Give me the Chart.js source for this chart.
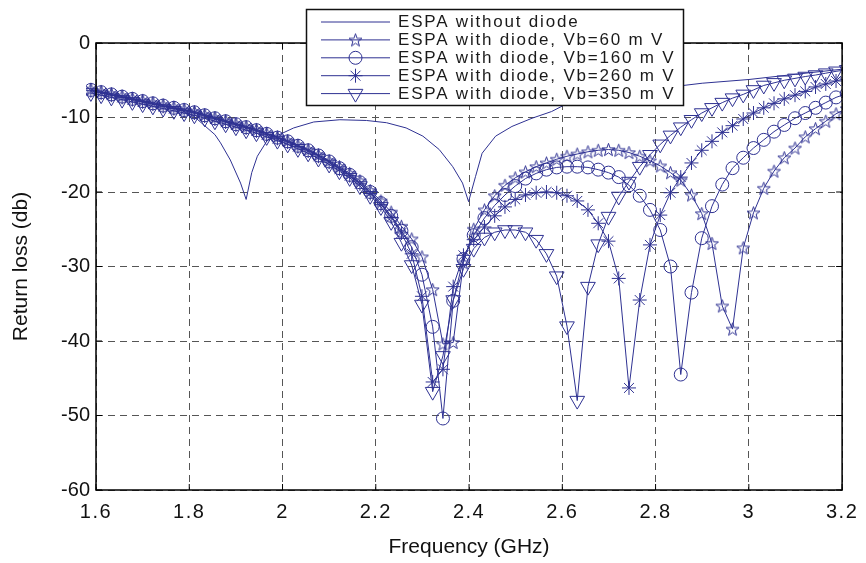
<!DOCTYPE html>
<html>
<head>
<meta charset="utf-8">
<title>Return loss</title>
<script src="https://cdn.jsdelivr.net/npm/chart.js@4.4.1/dist/chart.umd.min.js"></script>
<style>
  html, body { margin: 0; padding: 0; background: #fff; }
  #wrap { width: 866px; height: 563px; }
</style>
</head>
<body>
<div id="wrap"><canvas id="chart" width="866" height="563"></canvas></div>
<script>
// sweep used by the four diode curves (GHz)
const freq = [1.589, 1.611, 1.633, 1.656, 1.678, 1.700, 1.722, 1.744, 1.767, 1.789,
  1.811, 1.833, 1.855, 1.878, 1.900, 1.922, 1.944, 1.966, 1.989, 2.011,
  2.033, 2.055, 2.077, 2.100, 2.122, 2.144, 2.166, 2.188, 2.211, 2.233,
  2.255, 2.277, 2.299, 2.322, 2.344, 2.366, 2.388, 2.410, 2.433, 2.455,
  2.477, 2.499, 2.521, 2.544, 2.566, 2.588, 2.610, 2.632, 2.655, 2.677,
  2.699, 2.721, 2.743, 2.766, 2.788, 2.810, 2.832, 2.854, 2.877, 2.899,
  2.921, 2.943, 2.965, 2.988, 3.010, 3.032, 3.054, 3.076, 3.099, 3.121,
  3.143, 3.165, 3.187, 3.210];

// ESPA without diode
const freqNoDiode = [1.589, 1.633, 1.678, 1.722, 1.767, 1.789, 1.811, 1.833, 1.855, 1.867,
  1.888, 1.910, 1.922, 1.934, 1.946, 1.968, 2.000, 2.024, 2.067, 2.123,
  2.180, 2.223, 2.265, 2.301, 2.336, 2.365, 2.386, 2.399, 2.414, 2.428,
  2.457, 2.492, 2.535, 2.577, 2.605, 2.650, 2.700, 2.750, 2.800, 2.846,
  2.900, 3.000, 3.100, 3.210];
const noDiode = [-6.4, -7.0, -7.6, -8.2, -8.8, -9.2, -9.9, -11.1, -12.3, -13.4,
  -15.7, -18.8, -21.0, -17.4, -15.2, -13.0, -12.1, -11.4, -10.6, -10.3,
  -10.4, -10.7, -11.4, -12.5, -14.3, -16.6, -18.8, -21.3, -17.9, -14.8,
  -12.5, -11.2, -10.1, -9.2, -8.3, -7.6, -6.9, -6.4, -6.1, -5.8,
  -5.4, -4.9, -4.2, -3.45];

const vb60 = [-6.2, -6.5, -6.8, -7.1, -7.4, -7.7, -8.0, -8.3, -8.6, -8.9,
  -9.2, -9.6, -10.0, -10.4, -10.8, -11.2, -11.6, -12.1, -12.6, -13.1,
  -13.7, -14.3, -15.0, -15.8, -16.6, -17.5, -18.5, -19.8, -21.2, -22.7,
  -24.6, -26.3, -28.7, -33.1, -40.4, -40.2, -29.5, -25.0, -22.4, -20.5,
  -19.1, -18.1, -17.3, -16.6, -16.1, -15.6, -15.2, -14.9, -14.6, -14.4,
  -14.3, -14.4, -14.7, -15.2, -15.8, -16.5, -17.4, -18.4, -20.4, -22.9,
  -26.9, -35.3, -38.4, -27.5, -22.8, -19.5, -17.2, -15.4, -14.1, -12.6,
  -11.5, -10.5, -9.5, -8.8];

const vb160 = [-6.3, -6.6, -6.9, -7.2, -7.5, -7.8, -8.1, -8.4, -8.7, -9.0,
  -9.3, -9.7, -10.1, -10.5, -10.9, -11.3, -11.7, -12.2, -12.7, -13.2,
  -13.8, -14.4, -15.1, -15.9, -16.8, -17.7, -18.7, -20.0, -21.5, -23.2,
  -25.2, -27.4, -31.1, -38.1, -50.4, -34.6, -29.0, -25.8, -23.5, -21.8,
  -20.4, -19.2, -18.2, -17.5, -17.0, -16.7, -16.6, -16.6, -16.7, -17.0,
  -17.4, -18.0, -19.1, -20.5, -22.4, -25.1, -30.0, -44.5, -33.5, -26.2,
  -21.9, -19.0, -16.8, -15.4, -14.1, -13.0, -11.9, -11.0, -10.1, -9.4,
  -8.7, -8.0, -7.3, -6.8];

const vb260 = [-6.4, -6.7, -7.0, -7.3, -7.6, -7.9, -8.2, -8.5, -8.8, -9.1,
  -9.4, -9.8, -10.2, -10.6, -11.0, -11.4, -11.8, -12.3, -12.8, -13.3,
  -13.9, -14.5, -15.2, -16.0, -16.9, -17.8, -18.9, -20.2, -21.7, -23.4,
  -25.5, -28.3, -34.0, -45.5, -43.8, -32.7, -28.5, -26.4, -24.7, -23.2,
  -22.0, -21.0, -20.4, -20.1, -20.0, -20.1, -20.5, -21.2, -22.4, -24.2,
  -26.6, -31.6, -46.3, -34.5, -27.1, -23.1, -20.1, -18.0, -16.1, -14.4,
  -13.2, -12.0, -11.1, -10.2, -9.4, -8.7, -8.1, -7.5, -7.0, -6.5,
  -5.9, -5.5, -5.1, -4.7];

const vb350 = [-6.7, -7.0, -7.3, -7.6, -7.9, -8.2, -8.5, -8.8, -9.1, -9.4,
  -9.7, -10.1, -10.5, -10.9, -11.3, -11.7, -12.1, -12.6, -13.1, -13.6,
  -14.2, -14.8, -15.5, -16.3, -17.2, -18.1, -19.2, -20.5, -22.0, -24.0,
  -26.8, -29.8, -35.1, -46.8, -42.0, -34.5, -30.3, -27.6, -26.1, -25.4,
  -25.1, -25.1, -25.4, -26.4, -28.3, -31.3, -38.0, -48.0, -32.7, -27.0,
  -23.3, -20.6, -18.6, -16.6, -15.0, -13.6, -12.4, -11.3, -10.3, -9.4,
  -8.7, -8.0, -7.4, -6.9, -6.3, -5.7, -5.35, -5.0, -4.75, -4.5,
  -4.3, -4.05, -3.8, -3.6];

const seriesLabels = ['ESPA without diode', 'ESPA with diode, Vb=60 m V', 'ESPA with diode, Vb=160 m V',
  'ESPA with diode, Vb=260 m V', 'ESPA with diode, Vb=350 m V'];

const xTickValues = [1.6, 1.8, 2.0, 2.2, 2.4, 2.6, 2.8, 3.0, 3.2];
const xTickLabels = ['1.6', '1.8', '2', '2.2', '2.4', '2.6', '2.8', '3', '3.2'];
const yTickValues = [-60, -50, -40, -30, -20, -10, 0];
const yTickLabels = ['-60', '-50', '-40', '-30', '-20', '-10', '0'];

const blue = '#2E3192';
const fontFamily = '"Liberation Sans", Arial, Helvetica, sans-serif';

// matlab-like pentagram marker
function pentagram(r) {
  const c = document.createElement('canvas');
  const size = Math.ceil(r * 2 + 3);
  c.width = size;
  c.height = size;
  const g = c.getContext('2d');
  g.beginPath();
  for (let i = 0; i < 10; i++) {
    const rr = i % 2 === 0 ? r : r * 0.4;
    const a = -Math.PI / 2 + (i * Math.PI) / 5;
    const px = size / 2 + rr * Math.cos(a);
    const py = size / 2 + 0.6 + rr * Math.sin(a);
    if (i === 0) g.moveTo(px, py); else g.lineTo(px, py);
  }
  g.closePath();
  g.strokeStyle = blue;
  g.lineWidth = 1;
  g.stroke();
  return c;
}
const starImg = pentagram(6.8);

const toPoints = (xs, ys) => xs.map((x, i) => ({ x, y: ys[i] }));

const markerStyles = [
  { pointStyle: 'circle', radius: 0, rotation: 0 },
  { pointStyle: starImg, radius: 7, rotation: 0 },
  { pointStyle: 'circle', radius: 6.5, rotation: 0 },
  { pointStyle: 'star', radius: 7, rotation: 0 },
  { pointStyle: 'triangle', radius: 8.5, rotation: 180 },
];

function makeDataset(i, points) {
  const m = markerStyles[i];
  return {
    label: seriesLabels[i],
    data: points,
    borderColor: blue,
    borderWidth: 1,
    pointStyle: m.pointStyle,
    pointRadius: m.radius,
    pointHoverRadius: m.radius,
    pointRotation: m.rotation,
    pointBorderColor: blue,
    pointBackgroundColor: 'rgba(0,0,0,0)',
    pointBorderWidth: 1,
    tension: 0,
    clip: { left: 10, top: 10, right: 0, bottom: 0 },
  };
}

// wider spacing on the x tick labels, like the original print
const spacedTicks = {
  id: 'spacedTicks',
  beforeDraw(chart) {
    const s = chart.scales.x;
    if (s._spaced) return;
    const orig = s.drawLabels;
    s.drawLabels = function (area) {
      const c = this.ctx;
      c.save();
      c.letterSpacing = '1.5px';
      orig.call(this, area);
      c.restore();
    };
    s._spaced = true;
  },
};

// box + inward ticks like matlab axes
const axesBox = {
  id: 'axesBox',
  afterDatasetsDraw(chart) {
    const { ctx, chartArea: a, scales } = chart;
    ctx.save();
    ctx.strokeStyle = '#000';
    ctx.lineWidth = 1;
    ctx.beginPath();
    xTickValues.forEach((v) => {
      const px = scales.x.getPixelForValue(v);
      ctx.moveTo(px, a.bottom); ctx.lineTo(px, a.bottom - 6);
      ctx.moveTo(px, a.top); ctx.lineTo(px, a.top + 6);
    });
    yTickValues.forEach((v) => {
      const py = scales.y.getPixelForValue(v);
      ctx.moveTo(a.left, py); ctx.lineTo(a.left + 6, py);
      ctx.moveTo(a.right, py); ctx.lineTo(a.right - 6, py);
    });
    ctx.stroke();
    ctx.lineWidth = 1.5;
    ctx.strokeRect(a.left, a.top, a.right - a.left, a.bottom - a.top);
    ctx.restore();
  },
};

// matlab legend box sitting over the top of the axes
const boxLegend = {
  id: 'boxLegend',
  afterDraw(chart) {
    const { ctx } = chart;
    const left = 306.5;
    const top = 9.5;
    const w = 377;
    const h = 96;
    ctx.save();
    ctx.fillStyle = '#fff';
    ctx.fillRect(left, top, w, h);
    ctx.strokeStyle = '#111';
    ctx.lineWidth = 1.5;
    ctx.strokeRect(left, top, w, h);
    chart.data.datasets.forEach((ds, i) => {
      const y = top + 12.5 + i * 17.9;
      ctx.strokeStyle = blue;
      ctx.lineWidth = 1;
      ctx.beginPath();
      ctx.moveTo(321, y);
      ctx.lineTo(390, y);
      ctx.stroke();
      if (ds.pointRadius > 0) {
        ctx.fillStyle = 'rgba(0,0,0,0)';
        Chart.helpers.drawPoint(ctx, {
          pointStyle: ds.pointStyle,
          radius: ds.pointRadius,
          rotation: ds.pointRotation,
          borderWidth: 1,
        }, 355.5, y);
      }
      ctx.fillStyle = '#1a1a1a';
      ctx.font = '17px ' + fontFamily;
      ctx.letterSpacing = '1.8px';
      ctx.textBaseline = 'middle';
      ctx.textAlign = 'left';
      ctx.fillText(ds.label, 398, y + 0.5);
    });
    ctx.restore();
  },
};

Chart.defaults.font.family = fontFamily;

new Chart(document.getElementById('chart'), {
  type: 'line',
  data: {
    datasets: [
      makeDataset(0, toPoints(freqNoDiode, noDiode)),
      makeDataset(1, toPoints(freq, vb60)),
      makeDataset(2, toPoints(freq, vb160)),
      makeDataset(3, toPoints(freq, vb260)),
      makeDataset(4, toPoints(freq, vb350)),
    ],
  },
  options: {
    responsive: false,
    animation: false,
    devicePixelRatio: 1,
    layout: { padding: { left: 0, right: 17, top: 43, bottom: 0 } },
    plugins: {
      legend: { display: false },
      tooltip: { enabled: false },
    },
    scales: {
      x: {
        type: 'linear',
        min: 1.6,
        max: 3.2,
        afterBuildTicks: (scale) => { scale.ticks = xTickValues.map((v) => ({ value: v })); },
        afterFit: (scale) => { scale.height = 73; },
        grid: { color: '#555', lineWidth: 1, drawTicks: false },
        border: { display: false, dash: [7, 5] },
        ticks: {
          padding: 10,
          color: '#111',
          font: { size: 20 },
          maxRotation: 0,
          callback: (value, index) => xTickLabels[index],
        },
        title: {
          display: true,
          text: 'Frequency (GHz)',
          color: '#111',
          font: { size: 21 },
          padding: { top: 0, bottom: 3 },
        },
      },
      y: {
        type: 'linear',
        min: -60,
        max: 0,
        afterBuildTicks: (scale) => { scale.ticks = yTickValues.map((v) => ({ value: v })); },
        afterFit: (scale) => { scale.width = 96; },
        grid: { color: '#555', lineWidth: 1, drawTicks: false },
        border: { display: false, dash: [7, 5] },
        ticks: {
          padding: 6,
          color: '#111',
          font: { size: 20 },
          callback: (value, index) => yTickLabels[index],
        },
        title: {
          display: true,
          text: 'Return loss (db)',
          color: '#111',
          font: { size: 21 },
          padding: { top: 9, bottom: 0 },
        },
      },
    },
  },
  plugins: [spacedTicks, axesBox, boxLegend],
});
</script>
</body>
</html>
